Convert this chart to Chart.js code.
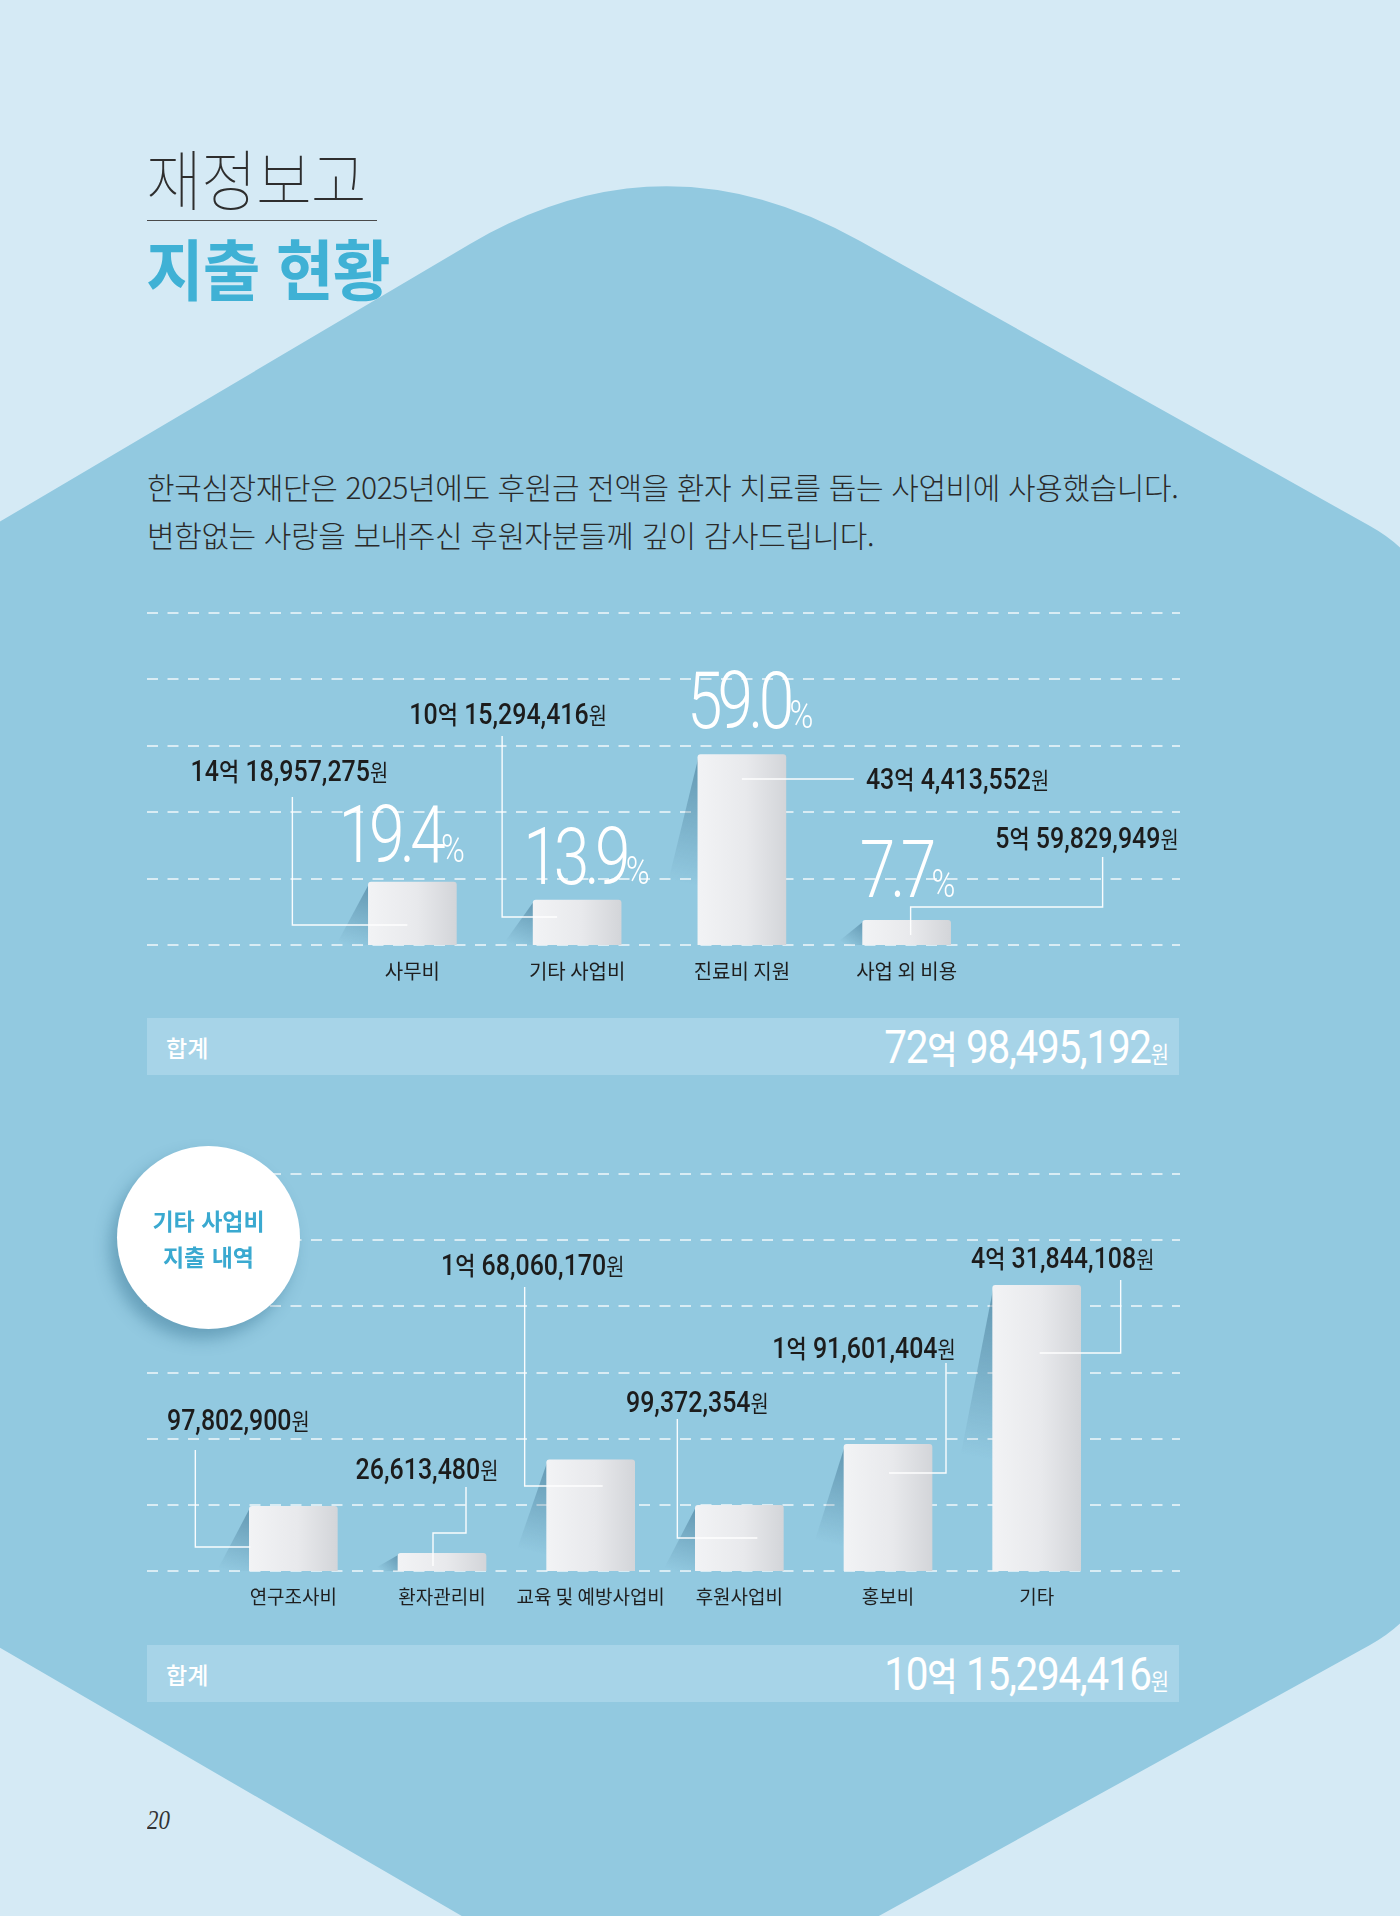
<!DOCTYPE html>
<html lang="ko">
<head>
<meta charset="utf-8">
<title>재정보고 - 지출 현황</title>
<script src="https://cdn.jsdelivr.net/npm/chart.js@4.4.1/dist/chart.umd.min.js"></script>
<style>
  html, body { margin: 0; padding: 0; }
  #page { position: relative; width: 1400px; height: 1916px; overflow: hidden;
          background: #d5eaf5; font-family: "Noto Sans CJK KR", "Noto Sans", sans-serif; }
  #hex { position: absolute; left: 0; top: 0; }
  .abs { position: absolute; white-space: nowrap; }
  #title1 { left: 146px; top: 143px; font-size: 66px; font-weight: 100; color: #2e2e2e; line-height: 1;
            transform: scaleX(0.92); transform-origin: left top; letter-spacing: -1px; }
  #rule { left: 147px; top: 220px; width: 230px; height: 1px; background: #4a4a4a; }
  #title2 { left: 146px; top: 233px; font-size: 66px; font-weight: 700; color: #3fb1d5; line-height: 1;
            transform: scaleX(0.95); transform-origin: left top; letter-spacing: -1px; }
  #intro { left: 147px; top: 462px; font-size: 30px; font-weight: 300; color: #2a2a2a; line-height: 48px; letter-spacing: -0.4px; }
  canvas { position: absolute; }
  #c1 { left: 147px; top: 590px; }
  #c2 { left: 147px; top: 1150px; }
  .sum { position: absolute; left: 147px; width: 1032px; height: 57px; background: #a7d4e8;
         display: flex; align-items: center; justify-content: space-between; }
  .sumL { margin-left: 19px; color: #fff; font-size: 23px; font-weight: 500; }
  .sumR { margin-right: 10px; color: #fff; transform: scaleX(0.86); transform-origin: right center; white-space: nowrap; }
  .sumR .n { font-family: Roboto, sans-serif; font-size: 47px; font-weight: 400; letter-spacing: -1.5px; }
  .sumR .e { font-size: 38px; font-weight: 500; }
  .sumR .w { font-size: 23px; font-weight: 400; }
  #badge { left: 117px; top: 1146px; width: 183px; height: 183px; border-radius: 50%; background: #fff;
           box-shadow: -7px 10px 16px rgba(35,95,125,0.38); display: flex; align-items: center; justify-content: center;
           text-align: center; color: #3aa9d0; font-size: 23px; font-weight: 700; line-height: 36px; }
  #pageno { left: 147px; top: 1805px; font-family: "Liberation Serif", serif; font-style: italic; font-size: 27px; color: #333;
            transform: scaleX(0.85); transform-origin: left top; }
</style>
</head>
<body>
<div id="page">
  <svg id="hex" width="1400" height="1916" viewBox="0 0 1400 1916">
    <path d="M -60 557 L 470 244 Q 663 130 860 241 L 1370 526 Q 1440 565 1440 645 L 1440 1526 Q 1440 1606 1370 1645 L 665 2034 L -60 1613 Z" fill="#92c9e0"/>
  </svg>

  <div class="abs" id="title1">재정보고</div>
  <div class="abs" id="rule"></div>
  <div class="abs" id="title2">지출 현황</div>
  <div class="abs" id="intro">한국심장재단은 2025년에도 후원금 전액을 환자 치료를 돕는 사업비에 사용했습니다.<br>변함없는 사랑을 보내주신 후원자분들께 깊이 감사드립니다.</div>

  <canvas id="c1" width="1033" height="414"></canvas>
  <div class="sum" style="top:1018px"><span class="sumL">합계</span><span class="sumR" id="sum1"></span></div>

  <canvas id="c2" width="1033" height="480"></canvas>
  <div class="abs" id="badge"><div>기타 사업비<br>지출 내역</div></div>
  <div class="sum" style="top:1645px"><span class="sumL">합계</span><span class="sumR" id="sum2"></span></div>

  <div class="abs" id="pageno">20</div>
</div>

<script>
// 지출 현황
const mainCategories = ['사무비', '기타 사업비', '진료비 지원', '사업 외 비용'];
const mainValues = [1418957275, 1015294416, 4304413552, 559829949];
const mainAmounts = ['14억 18,957,275원', '10억 15,294,416원', '43억 4,413,552원', '5억 59,829,949원'];
const mainPercents = [19.4, 13.9, 59.0, 7.7];
const mainTotal = '72억 98,495,192원';

// 기타 사업비 지출 내역
const etcCategories = ['연구조사비', '환자관리비', '교육 및 예방사업비', '후원사업비', '홍보비', '기타'];
const etcValues = [97802900, 26613480, 168060170, 99372354, 191601404, 431844108];
const etcAmounts = ['97,802,900원', '26,613,480원', '1억 68,060,170원', '99,372,354원', '1억 91,601,404원', '4억 31,844,108원'];
const etcTotal = '10억 15,294,416원';

const AMOUNT_STYLE = {
  num: { font: '500 29px Roboto', sx: 0.86, ls: '0px' },
  '억': { font: '500 25px "Noto Sans CJK KR"', sx: 0.88, ls: '0px' },
  '원': { font: '400 23px "Noto Sans CJK KR"', sx: 0.86, ls: '0px' }
};
const PCT_STYLE = {
  num: { font: '300 80px Roboto', sx: 0.8, ls: '-6px' },
  '%': { font: '300 38px Roboto', sx: 0.85, ls: '0px' }
};

function drawRich(ctx, text, x, y, align, styles) {
  const parts = text.match(/\d[\d,.]*|억|원|%|\s+/g).map(t => {
    const st = styles[t] || styles.num;
    ctx.font = st.font;
    ctx.letterSpacing = st.ls;
    return { t, st, w: ctx.measureText(t).width * st.sx };
  });
  const total = parts.reduce((s, p) => s + p.w, 0);
  let px = align === 'center' ? x - total / 2 : align === 'right' ? x - total : x;
  parts.forEach(p => {
    ctx.save();
    ctx.font = p.st.font;
    ctx.letterSpacing = p.st.ls;
    ctx.translate(px, y);
    ctx.scale(p.st.sx, 1);
    ctx.fillText(p.t, 0, 0);
    ctx.restore();
    px += p.w;
  });
  ctx.letterSpacing = '0px';
}

// dashed guides, bar shadows, leader lines and labels
const paperPlugin = {
  id: 'paper',
  beforeDatasetsDraw(chart) {
    const ctx = chart.ctx, ys = chart.scales.y;
    ctx.save();
    ctx.setLineDash([11, 9.5]);
    ctx.lineWidth = 2.2;
    ctx.strokeStyle = 'rgba(255,255,255,0.65)';
    ys.ticks.forEach(t => {
      const py = Math.round(ys.getPixelForValue(t.value));
      ctx.beginPath();
      ctx.moveTo(0, py);
      ctx.lineTo(chart.width, py);
      ctx.stroke();
    });
    ctx.setLineDash([]);
    chart.getDatasetMeta(0).data.forEach(bar => {
      const left = bar.x - bar.width / 2;
      const h = bar.base - bar.y;
      const reach = 26 + h * 0.1;
      const g = ctx.createLinearGradient(left, bar.y, left - reach * 0.6, bar.y + Math.min(h, 40 + h * 0.45));
      g.addColorStop(0, 'rgba(40,90,120,0.45)');
      g.addColorStop(1, 'rgba(40,90,120,0)');
      ctx.fillStyle = g;
      ctx.beginPath();
      ctx.moveTo(left + 1, bar.y + 1);
      ctx.lineTo(left - reach, bar.base);
      ctx.lineTo(left + 1, bar.base);
      ctx.closePath();
      ctx.fill();
    });
    ctx.restore();
  },
  afterDatasetsDraw(chart, args, opts) {
    const ctx = chart.ctx;
    const bars = chart.getDatasetMeta(0).data;
    const base = chart.scales.y.getPixelForValue(0);
    ctx.save();
    ctx.strokeStyle = 'rgba(255,255,255,0.95)';
    ctx.lineWidth = 1.4;
    ctx.fillStyle = '#1c1c1c';
    ctx.textBaseline = 'alphabetic';
    opts.callouts.forEach((co, i) => {
      const cx = bars[i].x;
      ctx.beginPath();
      co.path.forEach(([dx, dy], k) => k ? ctx.lineTo(cx + dx, base + dy) : ctx.moveTo(cx + dx, base + dy));
      ctx.stroke();
      drawRich(ctx, opts.amounts[i], cx + co.label[0], base + co.label[1], co.label[2], AMOUNT_STYLE);
    });
    if (opts.percents) {
      ctx.fillStyle = '#ffffff';
      opts.percents.forEach((p, i) => {
        const cx = bars[i].x;
        const [dx, dy] = opts.pctPos[i];
        drawRich(ctx, p.toFixed(1) + '%', cx + dx, base + dy, 'left', PCT_STYLE);
      });
    }
    ctx.restore();
  }
};

function barFill(c) {
  const chart = c.chart, xs = chart.scales.x;
  if (!chart.chartArea || !xs || c.dataIndex === undefined) return '#e6e7ea';
  const cx = xs.getPixelForValue(c.dataIndex);
  const g = chart.ctx.createLinearGradient(cx - 44, 0, cx + 44, 0);
  g.addColorStop(0, '#f2f3f5');
  g.addColorStop(0.55, '#e8e9ec');
  g.addColorStop(1, '#d3d5d9');
  return g;
}

function makeChart(id, labels, values, yMax, yStep, padding, tickSize, paperOpts) {
  return new Chart(document.getElementById(id), {
    type: 'bar',
    data: {
      labels: labels,
      datasets: [{
        data: values,
        backgroundColor: barFill,
        borderWidth: 0,
        borderRadius: { topLeft: 3, topRight: 3 },
        borderSkipped: 'bottom',
        barThickness: 88
      }]
    },
    options: {
      responsive: false,
      devicePixelRatio: 1,
      animation: false,
      layout: { padding: padding },
      plugins: { legend: { display: false }, tooltip: { enabled: false }, paper: paperOpts },
      scales: {
        x: {
          grid: { display: false, drawTicks: false },
          border: { display: false },
          ticks: {
            color: '#1e1e1e', padding: 14, maxRotation: 0, minRotation: 0, autoSkip: false,
            font: { family: '"Noto Sans CJK KR", sans-serif', size: tickSize }
          },
          afterFit: s => { s.height = 59; }
        },
        y: { display: false, min: 0, max: yMax, ticks: { stepSize: yStep } }
      }
    },
    plugins: [paperPlugin]
  });
}

makeChart('c1', mainCategories, mainValues, 7.5e9, 1.5e9,
  { top: 23, left: 183, right: 191, bottom: 0 }, 20,
  {
    amounts: mainAmounts,
    percents: mainPercents,
    pctPos: [[-74, -83], [-54, -61], [-55, -217], [-47, -48]],
    callouts: [
      { path: [[-5, -20], [-120, -20], [-120, -148]], label: [-123, -164, 'center'] },
      { path: [[-20, -28], [-75, -28], [-75, -209]], label: [-69, -221, 'center'] },
      { path: [[0, -166], [112, -166]], label: [124, -156, 'left'] },
      { path: [[4, -10], [4, -38], [196, -38], [196, -88]], label: [272, -97, 'right'] }
    ]
  });

makeChart('c2', etcCategories, etcValues, 6e8, 1e8,
  { top: 24, left: 72, right: 69, bottom: 0 }, 19,
  {
    amounts: etcAmounts,
    callouts: [
      { path: [[-43, -24], [-98, -24], [-98, -121]], label: [-55, -141, 'center'] },
      { path: [[-9, -5], [-9, -38], [24, -38], [24, -84]], label: [-15, -92, 'center'] },
      { path: [[12, -85], [-66, -85], [-66, -284]], label: [-58, -296, 'center'] },
      { path: [[18, -33], [-62, -33], [-62, -152]], label: [-42, -159, 'center'] },
      { path: [[1, -98], [58, -98], [58, -208]], label: [-24, -213, 'center'] },
      { path: [[3, -218], [84, -218], [84, -291]], label: [26, -303, 'center'] }
    ]
  });

function totalHtml(text) {
  return text.match(/\d[\d,]*|억|원|\s+/g).map(t =>
    t === '억' ? '<span class="e">억</span>' :
    t === '원' ? '<span class="w">원</span>' :
    '<span class="n">' + t.replace(/\s/g, '&nbsp;') + '</span>').join('');
}
document.getElementById('sum1').innerHTML = totalHtml(mainTotal);
document.getElementById('sum2').innerHTML = totalHtml(etcTotal);
</script>
</body>
</html>
